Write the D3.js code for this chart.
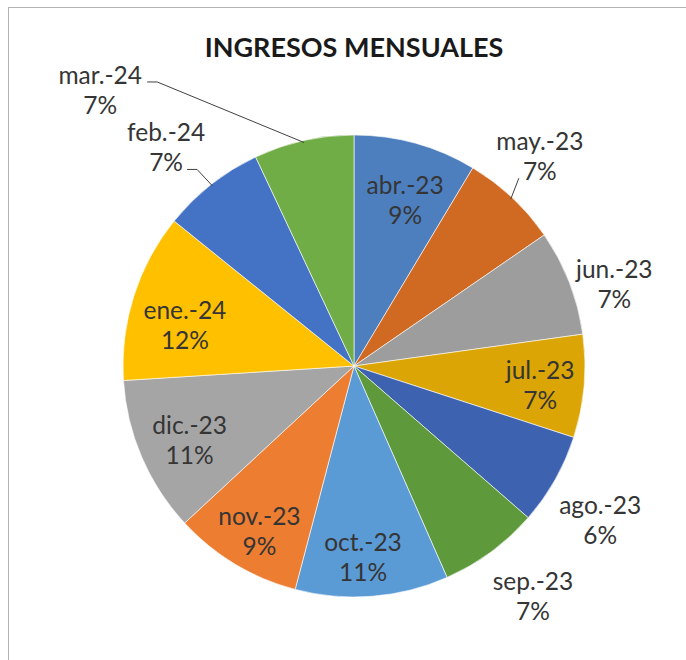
<!DOCTYPE html>
<html>
<head>
<meta charset="utf-8">
<script src="https://cdn.jsdelivr.net/npm/d3@7"></script>
<style>
  html, body { margin: 0; padding: 0; background: #fff; }
  svg { display: block; }
</style>
</head>
<body>
<svg id="chart" width="686" height="660"></svg>
<script>
// Monthly income shares (percent of the yearly total)
const months = ["abr.-23", "may.-23", "jun.-23", "jul.-23", "ago.-23", "sep.-23",
                "oct.-23", "nov.-23", "dic.-23", "ene.-24", "feb.-24", "mar.-24"];
const shares = [8.6, 6.8, 7.4, 7.2, 6.4, 7.0, 10.7, 9.0, 10.9, 11.8, 7.2, 7.0];
const colors = ["#4d7fbf", "#d06a22", "#9d9d9d", "#dba506", "#3c62b0", "#5e9a3c",
                "#5b9bd5", "#ed7d31", "#a5a5a5", "#ffc000", "#4472c4", "#70ad47"];

// Label placement: angle shift (deg) from the slice middle and distance from the centre (px)
const labelShift = [1.6, -1.8, 3.7, 0.5, 2.4, -1.6, 1.8, -1.1, -0.8, -4.0, -2.4, -30];
const labelDist  = [174, 281, 273, 187, 290, 291, 191, 190, 180, 174, 289, 375];
// Leader lines: start offset from the label centre and length of the flat segment
const leaders = { 1: [-21, 23, 0], 10: [21, 23, 10], 11: [47, -8, 10] };

const svg = d3.select("#chart");
const W = 686, H = 660;
const cx = 354, cy = 366, R = 231;

// chart area frame
svg.append("rect")
  .attr("x", 8.5).attr("y", 7.5)
  .attr("width", W + 20).attr("height", H + 20)
  .attr("fill", "#fff").attr("stroke", "#b4b4b4").attr("stroke-width", 1);

svg.append("text")
  .attr("x", cx).attr("y", 57)
  .attr("text-anchor", "middle")
  .attr("font-family", "Lato, 'Noto Sans', sans-serif")
  .attr("font-weight", "bold")
  .attr("font-size", 27)
  .attr("fill", "#1a1a1a")
  .text("INGRESOS MENSUALES");

const total = d3.sum(shares);
const data = months.map((m, i) => ({ month: m, value: shares[i], i }));

const pie = d3.pie().value(d => d.value).sort(null);
const arcs = pie(data);
const arc = d3.arc().innerRadius(0).outerRadius(R);

const g = svg.append("g").attr("transform", `translate(${cx},${cy})`);

g.selectAll("path.slice")
  .data(arcs)
  .join("path")
  .attr("class", "slice")
  .attr("d", arc)
  .attr("fill", d => colors[d.data.i])
  .attr("stroke", "#ffffff")
  .attr("stroke-opacity", 0.6)
  .attr("stroke-width", 1);

const polar = (ang, r) => [r * Math.sin(ang), -r * Math.cos(ang)];
const toRad = Math.PI / 180;

arcs.forEach(d => {
  const i = d.data.i;
  const mid = (d.startAngle + d.endAngle) / 2;
  const [lx, ly] = polar(mid + labelShift[i] * toRad, labelDist[i]);

  if (leaders[i]) {
    const [ox, oy, flat] = leaders[i];
    const sx = lx + ox, sy = ly + oy;
    const [ex, ey] = polar(mid, R - 2);
    const pts = [[sx, sy]];
    if (flat) pts.push([sx + flat, sy]);
    pts.push([ex, ey]);
    g.append("path")
      .attr("d", d3.line()(pts))
      .attr("fill", "none")
      .attr("stroke", "#404040")
      .attr("stroke-width", 1);
  }

  const pct = Math.round(d.data.value / total * 100) + "%";
  const t = g.append("text")
    .attr("text-anchor", "middle")
    .attr("font-family", "Lato, 'Noto Sans', sans-serif")
    .attr("font-size", 24.5)
    .attr("fill", "#353535");
  t.append("tspan").attr("x", lx).attr("y", ly - 15).attr("dominant-baseline", "central").text(d.data.month);
  t.append("tspan").attr("x", lx).attr("y", ly + 15).attr("dominant-baseline", "central").text(pct);
});
</script>
</body>
</html>
